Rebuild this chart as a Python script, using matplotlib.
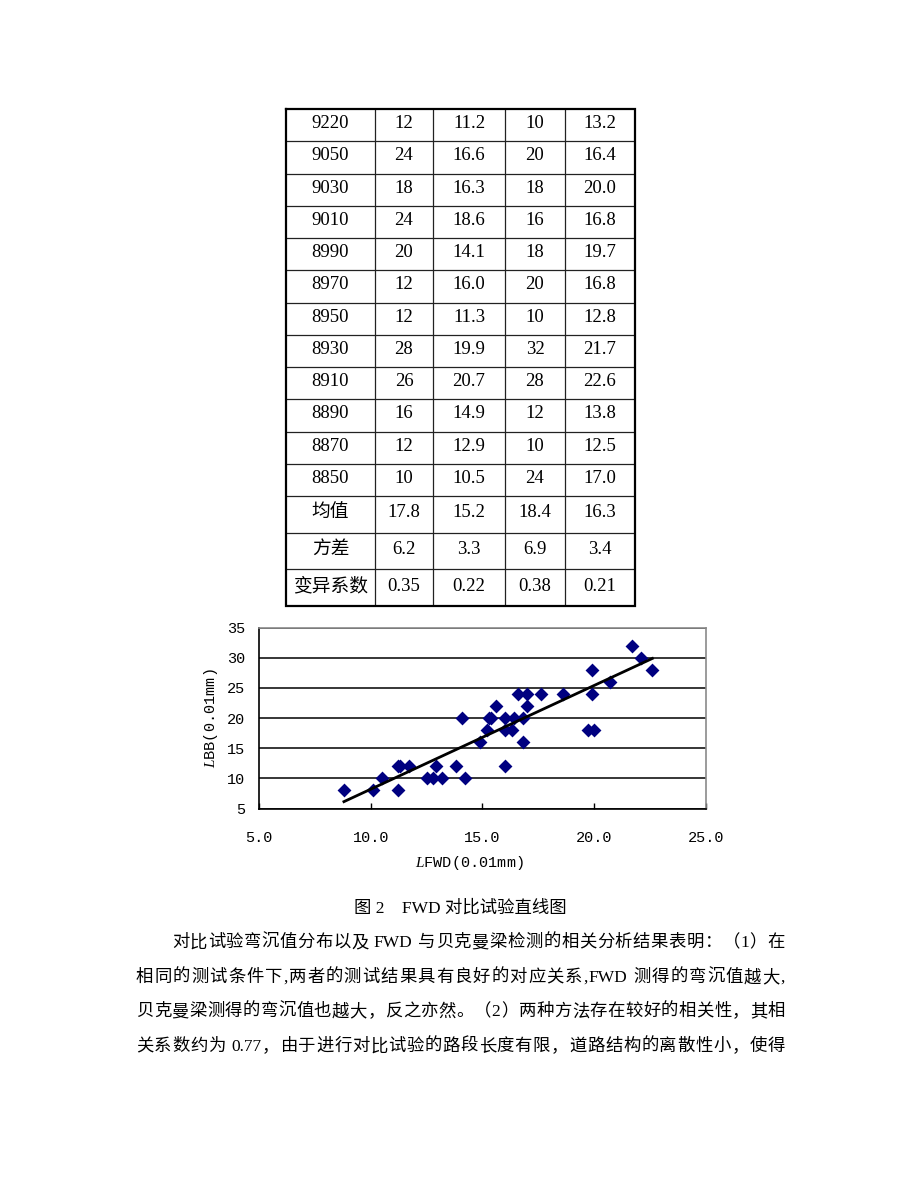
import re
import numpy as np
import matplotlib
matplotlib.use("Agg")
import matplotlib.pyplot as plt
from matplotlib.ticker import FormatStrFormatter

plt.rcParams['mathtext.fontset'] = 'custom'
plt.rcParams['mathtext.it'] = 'Liberation Serif:italic'
plt.rcParams['mathtext.rm'] = 'Liberation Serif'

# ---------------- data ----------------
table_rows = [
    ["9220", "12", "11.2", "10", "13.2"],
    ["9050", "24", "16.6", "20", "16.4"],
    ["9030", "18", "16.3", "18", "20.0"],
    ["9010", "24", "18.6", "16", "16.8"],
    ["8990", "20", "14.1", "18", "19.7"],
    ["8970", "12", "16.0", "20", "16.8"],
    ["8950", "12", "11.3", "10", "12.8"],
    ["8930", "28", "19.9", "32", "21.7"],
    ["8910", "26", "20.7", "28", "22.6"],
    ["8890", "16", "14.9", "12", "13.8"],
    ["8870", "12", "12.9", "10", "12.5"],
    ["8850", "10", "10.5", "24", "17.0"],
    ["均值", "17.8", "15.2", "18.4", "16.3"],
    ["方差", "6.2", "3.3", "6.9", "3.4"],
    ["变异系数", "0.35", "0.22", "0.38", "0.21"],
]

l_fwd = [8.8, 10.1, 10.5, 11.2, 11.2, 11.3, 11.7, 12.5, 12.8, 12.9, 13.2, 13.8,
         14.1, 14.2, 14.9, 15.2, 15.3, 15.4, 15.6, 16.0, 16.0, 16.0, 16.3, 16.4,
         16.6, 16.8, 16.8, 17.0, 17.0, 17.6, 18.6, 19.7, 19.9, 19.9, 20.0, 20.7,
         21.7, 22.1, 22.6]
l_bb = [8, 8, 10, 8, 12, 12, 12, 10, 10, 12, 10, 12,
        20, 10, 16, 18, 20, 20, 22, 20, 18, 12, 18, 20,
        24, 20, 16, 24, 22, 24, 24, 18, 28, 24, 18, 26,
        32, 30, 28]
trend_slope = 1.72
trend_intercept = -9.0

x_ticks = [5, 10, 15, 20, 25]
y_ticks = [5, 10, 15, 20, 25, 30, 35]

caption = "图 2　FWD 对比试验直线图"
para_lines = [
    "对比试验弯沉值分布以及 FWD 与贝克曼梁检测的相关分析结果表明：（1）在",
    "相同的测试条件下,两者的测试结果具有良好的对应关系,FWD 测得的弯沉值越大,",
    "贝克曼梁测得的弯沉值也越大，反之亦然。（2）两种方法存在较好的相关性，其相",
    "关系数约为 0.77，由于进行对比试验的路段长度有限，道路结构的离散性小，使得",
]

# ---------------- figure ----------------
W, H = 920, 1191
fig = plt.figure(figsize=(W / 100, H / 100), dpi=100)
fig.patch.set_facecolor('white')

ax0 = fig.add_axes([0, 0, 1, 1])
ax0.set_xlim(0, W)
ax0.set_ylim(H, 0)
ax0.axis('off')
ax0.patch.set_visible(False)

body_fam = ['Liberation Serif', 'Noto Sans CJK SC']

# ---------------- table ----------------
col_x = [286, 375, 433, 505, 565, 635]
top_rows_y = list(np.linspace(109, 496, 13))
bot_rows_y = list(np.linspace(496, 606, 4))[1:]
row_y = top_rows_y + bot_rows_y

for yy in row_y[1:-1]:
    ax0.plot([col_x[0], col_x[-1]], [yy, yy], color='#222222', lw=0.9, solid_capstyle='butt')
for xx in col_x[1:-1]:
    ax0.plot([xx, xx], [row_y[0], row_y[-1]], color='#222222', lw=0.9, solid_capstyle='butt')
ax0.plot([col_x[0], col_x[-1], col_x[-1], col_x[0], col_x[0]],
         [row_y[0], row_y[0], row_y[-1], row_y[-1], row_y[0]],
         color='black', lw=1.6, solid_joinstyle='miter')

for i, row in enumerate(table_rows):
    yc = (row_y[i] + row_y[i + 1]) / 2 - 1.5
    for j, cell in enumerate(row):
        xc = (col_x[j] + col_x[j + 1]) / 2
        ax0.text(xc, yc, cell, family=body_fam, fontsize=13.5,
                 ha='center', va='center', color='black')

# ---------------- chart ----------------
ax_l, ax_r, ax_t, ax_b = 259, 706, 627.5, 808.5
ax = fig.add_axes([ax_l / W, 1 - ax_b / H, (ax_r - ax_l) / W, (ax_b - ax_t) / H])
ax.set_xlim(5, 25)
ax.set_ylim(5, 35)
ax.set_xticks(x_ticks)
ax.set_yticks(y_ticks)
ax.xaxis.set_major_formatter(FormatStrFormatter('%.1f'))
ax.yaxis.grid(True, color='black', lw=1.1)
ax.set_axisbelow(True)
for side in ['left', 'bottom']:
    ax.spines[side].set_color('black')
    ax.spines[side].set_linewidth(1.2)
for side in ['top', 'right']:
    ax.spines[side].set_color('#8a8a8a')
    ax.spines[side].set_linewidth(1.2)

mono = 'Liberation Mono'
ax.tick_params(axis='x', direction='in', length=4.5, width=1.0, pad=16,
               labelsize=11, color='black')
ax.tick_params(axis='y', length=0, pad=10, labelsize=11)
for lab in ax.get_xticklabels() + ax.get_yticklabels():
    lab.set_fontfamily(mono)

ax.scatter(l_fwd, l_bb, marker='D', s=50, color='#000080', zorder=3, linewidths=0)
xs = np.array([min(l_fwd), max(l_fwd)])
ax.plot(xs, trend_slope * xs + trend_intercept, color='black', lw=2.0, zorder=4)

ax0.text(469, 863, r'$\mathit{L}$FWD(0.01mm)', family=mono, fontsize=11,
         ha='center', va='center')
ax0.text(211, 718, r'$\mathit{L}$BB(0.01mm)', family=mono, fontsize=11,
         ha='center', va='center', rotation=90)

# ---------------- caption & paragraph ----------------
renderer = fig.canvas.get_renderer()
fs_body = 12.5


def place_line(s, x0, x1, y, justify=True):
    toks = re.findall(r'[A-Za-z0-9.]+| |.', s)
    widths, arts = [], []
    for t in toks:
        if t == ' ':
            widths.append(4.0)
            arts.append(None)
        else:
            a = ax0.text(0, y, t, fontsize=fs_body, family=body_fam,
                         ha='left', va='center', color='black')
            widths.append(a.get_window_extent(renderer).width)
            arts.append(a)
    total = sum(widths)
    gap = ((x1 - x0) - total) / (len(toks) - 1) if justify else 0.0
    x = x0
    for w, a in zip(widths, arts):
        if a is not None:
            a.set_x(x)
        x += w + gap


ax0.text(460, 908, caption, fontsize=fs_body, family=body_fam,
         ha='center', va='center')

para_y = [943, 978, 1012, 1047]
para_x0 = [172, 136, 136, 136]
for s, y, x0 in zip(para_lines, para_y, para_x0):
    place_line(s, x0, 785, y)

fig.savefig('out.png', dpi=100, facecolor='white')
